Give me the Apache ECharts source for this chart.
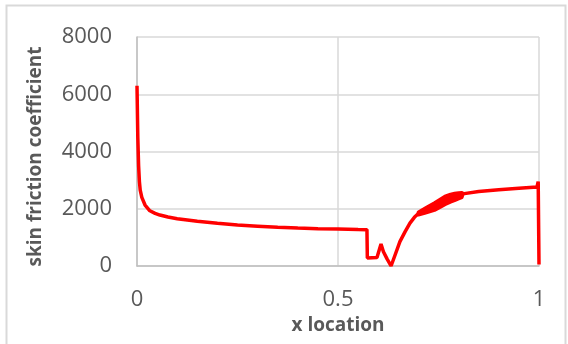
<!DOCTYPE html>
<html>
<head>
<meta charset="utf-8">
<script src="https://cdn.jsdelivr.net/npm/echarts@6/dist/echarts.min.js"></script>
<style>
html,body{margin:0;padding:0;background:#fff;}
#c{width:568px;height:344px;}
</style>
</head>
<body>
<div id="c"></div>
<script>
// x location values
var xLocation = [
  0, 0.002, 0.004, 0.006, 0.008, 0.012, 0.02, 0.032, 0.045, 0.057, 0.077, 0.1, 0.15, 0.2, 0.25, 0.3, 0.35, 0.4, 0.45, 0.5, 0.55, 0.572,
  0.573, 0.585, 0.597, 0.607, 0.613, 0.622, 0.632, 0.642, 0.654, 0.667, 0.679, 0.69,
  0.70, 0.72, 0.74, 0.76, 0.78, 0.80, 0.81,
  0.85, 0.9, 0.95, 0.995, 0.998, 1.0, 1.0
];
// skin friction coefficient values
var skinFriction = [
  6300, 4500, 3500, 2950, 2650, 2400, 2130, 1930, 1840, 1780, 1710, 1650, 1560, 1490, 1430, 1390, 1350, 1325, 1305, 1290, 1275, 1270,
  280, 290, 300, 770, 500, 250, 0, 384, 850, 1200, 1500, 1700,
  1835, 1955, 2075, 2240, 2370, 2450, 2520,
  2600, 2660, 2715, 2760, 2950, 2900, 50
];
// oscillation band (lower / upper envelope of the oscillating region)
var bandX =     [0.70, 0.72, 0.74, 0.755, 0.766, 0.78, 0.79, 0.80, 0.808, 0.81];
var bandLower = [1790, 1870, 1950, 2060,  2150,  2240, 2290, 2350, 2400,  2480];
var bandUpper = [1880, 2040, 2200, 2330,  2430,  2500, 2530, 2550, 2560,  2540];
var xTicks = [0, 0.5, 1];
var yTicks = [0, 2000, 4000, 6000, 8000];

var pts = xLocation.map(function (x, i) { return [x, skinFriction[i]]; });
var chart = echarts.init(document.getElementById('c'));
var font = '"Open Sans", sans-serif';
chart.setOption({
  animation: false,
  graphic: [{
    type: 'rect', shape: { x: 6.5, y: 5.5, width: 559, height: 345 },
    style: { fill: 'none', stroke: '#d9d9d9', lineWidth: 2 }
  }],
  grid: { left: 137, right: 29, top: 37, bottom: 78 },
  xAxis: {
    type: 'value', min: xTicks[0], max: xTicks[xTicks.length - 1], interval: 0.5,
    name: 'x location', nameLocation: 'middle', nameGap: 47,
    nameTextStyle: { fontFamily: font, fontWeight: 'bold', fontSize: 19, color: '#595959' },
    axisLine: { show: true, lineStyle: { color: '#bfbfbf', width: 1.5 } },
    axisTick: { show: false },
    splitLine: { show: true, lineStyle: { color: '#d9d9d9', width: 1.5 } },
    axisLabel: { margin: 23, fontFamily: font, fontSize: 22, color: '#595959',
      formatter: function (v) { return String(v); } }
  },
  yAxis: {
    type: 'value', min: yTicks[0], max: yTicks[yTicks.length - 1], interval: 2000,
    name: 'skin friction coefficient', nameLocation: 'middle', nameGap: 92,
    nameTextStyle: { fontFamily: font, fontWeight: 'bold', fontSize: 19, color: '#595959', padding: [0, 10, 0, 0] },
    axisLine: { show: true, lineStyle: { color: '#bfbfbf', width: 1.5 } },
    axisTick: { show: false },
    splitLine: { show: true, lineStyle: { color: '#d9d9d9', width: 1.5 } },
    axisLabel: { margin: 25, fontFamily: font, fontSize: 22, color: '#595959',
      formatter: function (v) { return String(v); } }
  },
  series: [{
    type: 'line', data: pts, showSymbol: false, smooth: false,
    lineStyle: { color: '#ff0000', width: 3.5 }
  }, {
    type: 'custom',
    data: [0],
    renderItem: function (params, api) {
      var poly = [];
      for (var i = 0; i < bandX.length; i++) poly.push(api.coord([bandX[i], bandUpper[i]]));
      for (var j = bandX.length - 1; j >= 0; j--) poly.push(api.coord([bandX[j], bandLower[j]]));
      return {
        type: 'polygon', shape: { points: poly },
        style: { fill: '#ff0000', stroke: '#ff0000', lineWidth: 3.5, lineJoin: 'round' }
      };
    }
  }]
});
</script>
</body>
</html>
